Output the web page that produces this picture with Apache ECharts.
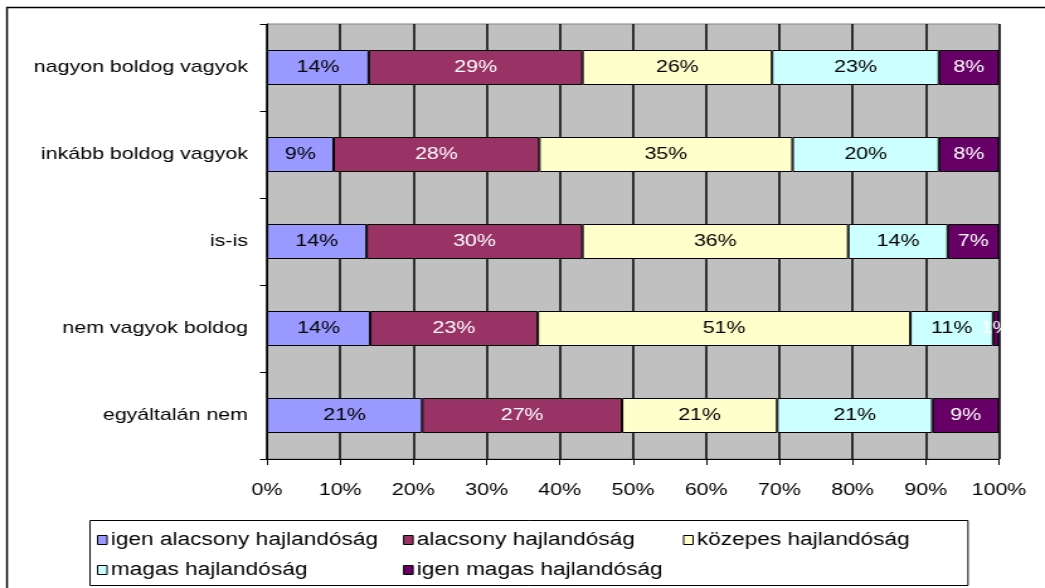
<!DOCTYPE html>
<html>
<head>
<meta charset="utf-8">
<script src="https://cdn.jsdelivr.net/npm/echarts@6/dist/echarts.min.js"></script>
<style>
  html, body { margin: 0; padding: 0; background: #fff; overflow: hidden; }
  /* the original chart is stretched sideways, so draw narrow and widen it */
  #chartBox {
    width: 830px;
    height: 588px;
    transform: scaleX(1.259);
    transform-origin: 0 0;
  }
</style>
</head>
<body>
<div id="chartBox"></div>
<script>
// categories, top to bottom
const categories = [
  "nagyon boldog vagyok",
  "inkább boldog vagyok",
  "is-is",
  "nem vagyok boldog",
  "egyáltalán nem",
];
const seriesNames = [
  "igen alacsony hajlandóság",
  "alacsony hajlandóság",
  "közepes hajlandóság",
  "magas hajlandóság",
  "igen magas hajlandóság",
];
// shares in percent
const igenAlacsony = [13.9, 9.1, 13.6, 14.1, 21.2];
const alacsony = [29.2, 28.1, 29.5, 22.9, 27.3];
const kozepes = [25.9, 34.6, 36.3, 50.9, 21.2];
const magas = [22.8, 20.0, 13.6, 11.3, 21.2];
const igenMagas = [8.2, 8.2, 7.0, 0.8, 9.1];
const xTicks = [0, 10, 20, 30, 40, 50, 60, 70, 80, 90, 100];

const S = 1.259; // horizontal stretch, page px -> chart px
const colors = ["#9999ff", "#993366", "#ffffcc", "#ccffff", "#660066"];
const labelColors = ["#000", "#fff", "#000", "#000", "#fff"];
const values = [igenAlacsony, alacsony, kozepes, magas, igenMagas];
const font = "Liberation Sans";

const chart = echarts.init(document.getElementById("chartBox"));

const series = seriesNames.map((name, i) => ({
  name: name,
  type: "bar",
  stack: "total",
  barWidth: 35,
  data: values[i],
  itemStyle: { color: colors[i], borderColor: "#000", borderWidth: 1 },
  label: {
    show: true,
    position: "inside",
    color: labelColors[i],
    fontFamily: font,
    fontSize: 17,
    formatter: (p) => Math.round(p.value) + "%",
  },
  emphasis: { disabled: true },
}));

// legend: one component per item so the columns line up
const legendPos = [
  [97, 531],
  [403, 531],
  [683, 531],
  [97, 561],
  [403, 561],
];
const legend = seriesNames.map((name, i) => ({
  data: [name],
  left: legendPos[i][0] / S,
  top: legendPos[i][1],
  icon: "rect",
  itemWidth: 7.5,
  itemHeight: 9,
  itemGap: 3,
  padding: 0,
  selectedMode: false,
  itemStyle: { borderColor: "#000", borderWidth: 1 },
  textStyle: { fontFamily: font, fontSize: 18, color: "#000", padding: [0, 0, 0, -2] },
}));

const option = {
  animation: false,
  color: colors,
  legend: legend,
  grid: {
    left: 267 / S,
    right: (1045 - 999) / S,
    top: 24,
    bottom: 129,
    show: true,
    backgroundColor: "#c0c0c0",
    borderColor: "#808080",
    borderWidth: 1,
  },
  xAxis: {
    type: "value",
    min: 0,
    max: 100,
    interval: 10,
    axisLine: { show: true, lineStyle: { color: "#000", width: 1 } },
    axisTick: { show: true, length: 6, lineStyle: { color: "#000" } },
    splitLine: { show: true, lineStyle: { color: "#000", width: 1.5 } },
    axisLabel: {
      color: "#000",
      fontFamily: font,
      fontSize: 17,
      margin: 23,
      formatter: (v) => (xTicks.includes(v) ? v + "%" : ""),
    },
  },
  yAxis: {
    type: "category",
    inverse: true,
    data: categories,
    axisLine: { show: true, lineStyle: { color: "#000", width: 1 } },
    axisTick: { show: true, length: 7 / S, lineStyle: { color: "#000" } },
    axisLabel: { color: "#000", fontFamily: font, fontSize: 17, margin: 19 / S },
    splitLine: { show: false },
  },
  graphic: [
    {
      type: "rect",
      shape: { x: 7 / S, y: 7.5, width: 1100, height: 600 },
      style: { fill: "none", stroke: "#000", lineWidth: 1.5 },
      silent: true,
    },
    {
      type: "rect",
      shape: { x: 90 / S, y: 520.5, width: 878 / S, height: 65 },
      style: { fill: "none", stroke: "#000", lineWidth: 1 },
      silent: true,
      z: -1,
    },
  ],
  series: series,
};

option && chart.setOption(option);
</script>
</body>
</html>
